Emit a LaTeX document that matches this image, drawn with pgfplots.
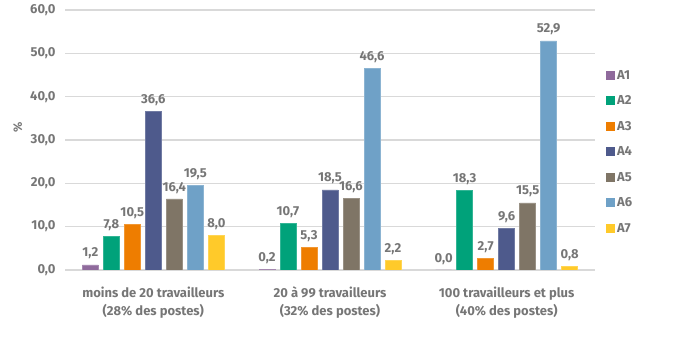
\documentclass[border=0pt]{standalone}
\usepackage{fontspec}
\setmainfont{Fira Sans}
\usepackage{pgfplots}
\pgfplotsset{compat=1.18}
\usetikzlibrary{calc}
\definecolor{txt}{HTML}{767676}
\definecolor{gridc}{HTML}{D9D9D9}
\definecolor{cA}{HTML}{8F6A9C}
\definecolor{cB}{HTML}{00A27A}
\definecolor{cC}{HTML}{EE7D00}
\definecolor{cD}{HTML}{4E5A8C}
\definecolor{cE}{HTML}{7F7566}
\definecolor{cF}{HTML}{6FA1C7}
\definecolor{cG}{HTML}{FFCA2A}
\begin{document}
\begin{tikzpicture}
\begin{axis}[
  scale only axis,
  width=530pt, height=260pt,
  xmin=-0.5, xmax=2.5,
  ymin=0, ymax=60,
  ybar=5pt, bar width=16pt,
  xtick={0,1,2},
  xticklabels={{moins de 20 travailleurs\\(28\% des postes)},{20 à 99 travailleurs\\(32\% des postes)},{100 travailleurs et plus\\(40\% des postes)}},
  xticklabel style={align=center, font=\fontsize{13}{18}\selectfont\bfseries, text=txt, yshift=-13pt},
  ytick={0,10,...,60},
  yticklabel style={font=\fontsize{13}{15}\selectfont\bfseries, text=txt, xshift=-6pt},
  /pgf/number format/fixed,
  /pgf/number format/fixed zerofill,
  /pgf/number format/precision=1,
  /pgf/number format/use comma,
  /pgf/number format/assume math mode=true,
  ymajorgrids,
  grid style={gridc, line width=1.2pt},
  axis line style={draw=none},
  major tick length=0pt,
  ylabel={\%},
  ylabel style={at={(axis description cs:-0.089,0.55)}, anchor=center, font=\fontsize{12}{14}\selectfont\bfseries, text=txt},
  nodes near coords,
  nodes near coords style={font=\fontsize{13}{15}\selectfont\bfseries, text=txt, yshift=2pt,
    /pgf/number format/fixed, /pgf/number format/fixed zerofill, /pgf/number format/precision=1,
    /pgf/number format/use comma, /pgf/number format/assume math mode=true},
  legend style={at={(1,1)}, anchor=north west, xshift=8pt, yshift=-56pt, draw=none, fill=none,
    font=\fontsize{13}{15}\selectfont\bfseries, text=txt, row sep=11pt, cells={anchor=west}},
  legend cell align=left,
  legend image code/.code={\fill[#1,draw=none] (0pt,-4.5pt) rectangle (9pt,4.5pt);},
]
\addplot[fill=cA, draw=cA!80!white] coordinates {(0,1.2) (1,0.2) (2,0.0)};
\addplot[fill=cB, draw=cB!80!white] coordinates {(0,7.8) (1,10.7) (2,18.3)};
\addplot[fill=cC, draw=cC!80!white] coordinates {(0,10.5) (1,5.3) (2,2.7)};
\addplot[fill=cD, draw=cD!80!white] coordinates {(0,36.6) (1,18.5) (2,9.6)};
\addplot[fill=cE, draw=cE!80!white] coordinates {(0,16.4) (1,16.6) (2,15.5)};
\addplot[fill=cF, draw=cF!80!white] coordinates {(0,19.5) (1,46.6) (2,52.9)};
\addplot[fill=cG, draw=cG!80!white] coordinates {(0,8.0) (1,2.2) (2,0.8)};
\legend{A1,A2,A3,A4,A5,A6,A7}
\end{axis}
\useasboundingbox ($(current axis.south west)+(-65pt,-80pt)$) rectangle ($(current axis.north east)+(105pt,10pt)$);
\end{tikzpicture}
\end{document}
